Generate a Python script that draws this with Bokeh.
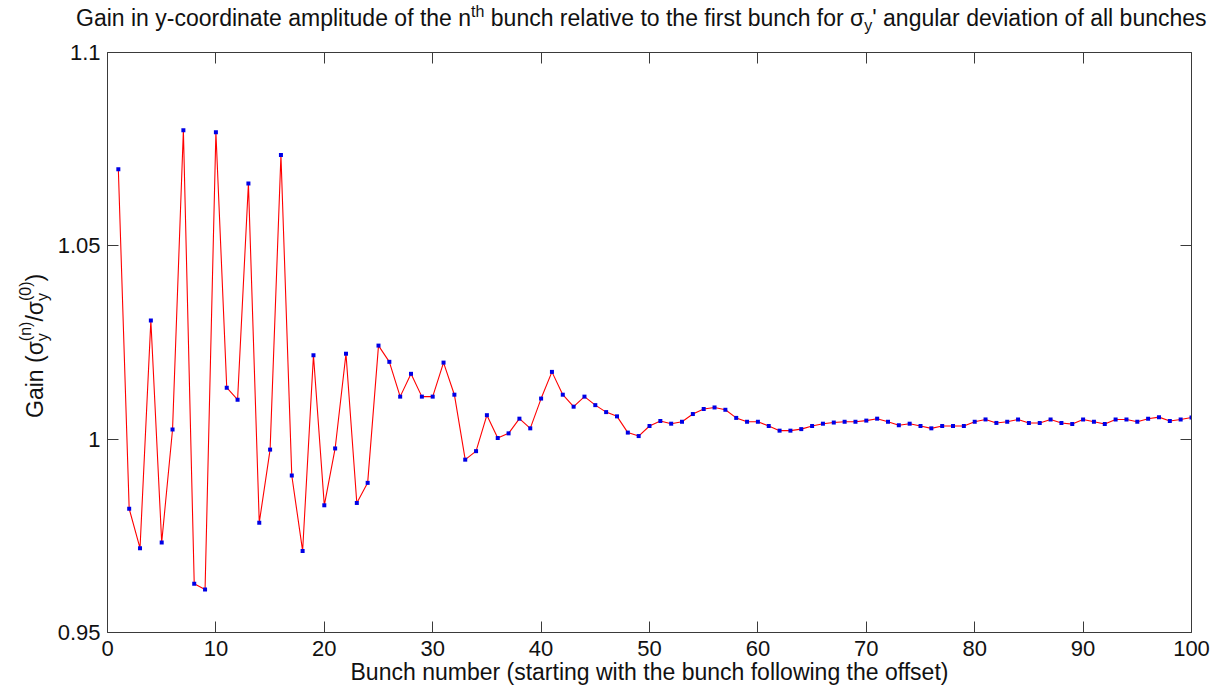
from bokeh.plotting import figure
from bokeh.models import Range1d, LinearAxis, FixedTicker, CustomJSTickFormatter, Div
from bokeh.layouts import column, row
from bokeh.embed import file_html
from bokeh.resources import INLINE

# ---------------- data ----------------
bunch = list(range(1, 101))
gain = [
    1.0698, 0.9820, 0.9718, 1.0307, 0.9733, 1.0025, 1.0799, 0.9626, 0.9611, 1.0794,
    1.0133, 1.0102, 1.0661, 0.9784, 0.9973, 1.0735, 0.9906, 0.9711, 1.0217, 0.9829,
    0.9976, 1.0221, 0.9835, 0.9887, 1.0242, 1.0200, 1.0110, 1.0169, 1.0110, 1.0110,
    1.0198, 1.0115, 0.9947, 0.9969, 1.0062, 1.0003, 1.0015, 1.0053, 1.0028, 1.0105,
    1.0174, 1.0115, 1.0084, 1.0110, 1.0088, 1.0070, 1.0059, 1.0017, 1.0008, 1.0034,
    1.0047, 1.0040, 1.0045, 1.0065, 1.0078, 1.0082, 1.0076, 1.0055, 1.0045, 1.0045,
    1.0034, 1.0022, 1.0022, 1.0026, 1.0034, 1.0040, 1.0043, 1.0045, 1.0045, 1.0048,
    1.0053, 1.0045, 1.0036, 1.0040, 1.0034, 1.0028, 1.0034, 1.0034, 1.0034, 1.0045,
    1.0051, 1.0042, 1.0045, 1.0051, 1.0042, 1.0042, 1.0051, 1.0042, 1.0039, 1.0051,
    1.0045, 1.0039, 1.0051, 1.0051, 1.0045, 1.0053, 1.0057, 1.0047, 1.0051, 1.0056,
]
x_ticks = [0, 10, 20, 30, 40, 50, 60, 70, 80, 90, 100]
y_ticks = [0.95, 1.0, 1.05, 1.1]
y_tick_labels = ["0.95", "1", "1.05", "1.1"]

title_parts = ["Gain in y-coordinate amplitude of the n", "th",
               " bunch relative to the first bunch for \u03c3", "y",
               "' angular deviation of all bunches"]
x_label = "Bunch number (starting with the bunch following the offset)"
y_label_parts = ["Gain (\u03c3", "y", "(n)", "/\u03c3", "y", "(0)", ")"]

# ---------------- layout ----------------
PAGE_W, PAGE_H = 1227, 693
TITLE_H = 30
YLAB_W = 48
FIG_W, FIG_H = PAGE_W - YLAB_W, PAGE_H - TITLE_H
# frame edges in page px
PL, PR, PT, PB = 107, 1191, 52, 632
FONT = "Liberation Sans"
AX_COL = "#3a3a3a"
TXT_COL = "#111111"
FS = 23          # main font size
SS = 16          # script font size

p = figure(width=FIG_W, height=FIG_H, x_range=Range1d(0, 100), y_range=Range1d(0.95, 1.10),
           output_backend="svg", toolbar_location=None,
           min_border_left=PL - YLAB_W, min_border_right=PAGE_W - PR,
           min_border_top=PT - TITLE_H, min_border_bottom=PAGE_H - PB)
p.background_fill_color = "white"
p.border_fill_alpha = 0
p.outline_line_color = None
p.xgrid.visible = False
p.ygrid.visible = False

for ax in (p.xaxis[0], p.yaxis[0]):
    ax.axis_line_color = AX_COL
    ax.major_tick_line_color = AX_COL
    ax.major_tick_in = 11
    ax.major_tick_out = 0
    ax.minor_tick_line_color = None
    ax.major_label_text_font = FONT
    ax.major_label_text_font_size = "22px"
    ax.major_label_text_color = TXT_COL

p.xaxis[0].ticker = FixedTicker(ticks=x_ticks)
p.xaxis[0].major_label_standoff = 8
p.xaxis[0].axis_label = x_label
p.xaxis[0].axis_label_text_font = FONT
p.xaxis[0].axis_label_text_font_size = f"{FS}px"
p.xaxis[0].axis_label_text_font_style = "normal"
p.xaxis[0].axis_label_text_color = TXT_COL
p.xaxis[0].axis_label_standoff = 0
p.yaxis[0].ticker = FixedTicker(ticks=y_ticks)
p.yaxis[0].major_label_overrides = {t: l for t, l in zip(y_ticks, y_tick_labels)}
p.yaxis[0].major_label_standoff = 7

for loc, tk in (("above", x_ticks), ("right", y_ticks)):
    ax = LinearAxis(ticker=FixedTicker(ticks=tk),
                    formatter=CustomJSTickFormatter(code="return ''"))
    ax.axis_line_color = AX_COL
    ax.major_tick_line_color = AX_COL
    ax.major_tick_in = 11
    ax.major_tick_out = 0
    ax.minor_tick_line_color = None
    ax.major_label_standoff = 0
    p.add_layout(ax, loc)

p.line(bunch, gain, line_color="#ff0000", line_width=1.1)
p.scatter(bunch, gain, marker="square", size=4, fill_color="#0000e6", line_color=None)

BASE = (f"font-family:'{FONT}';font-size:{FS}px;line-height:30px;white-space:nowrap;"
        f"color:{TXT_COL};margin:0;padding:0;")


def sup(t, shift, extra=""):
    return (f"<span style=\"font-size:{SS}px;position:relative;top:{shift}px;{extra}\">"
            f"{t}</span>")


title_html = (f"<div style=\"{BASE}padding-left:76px;padding-top:3px;\">"
              f"{title_parts[0]}{sup(title_parts[1], -9)}{title_parts[2]}"
              f"{sup(title_parts[3], 5)}{title_parts[4]}</div>")
title_div = Div(text=title_html, width=PAGE_W, height=TITLE_H,
                styles={"margin": "0", "padding": "0"})

# rotated y label: baseline at page x=43, text starting at page y=418
ylab_html = (f"<div style=\"{BASE}width:max-content;margin-left:20px;margin-top:{418 - TITLE_H}px;"
             f"transform-origin:0 0;transform:rotate(-90deg);\">"
             f"{y_label_parts[0]}{sup(y_label_parts[1], 5)}"
             f"{sup(y_label_parts[2], -12, 'margin-left:-8px;')}"
             f"{y_label_parts[3]}{sup(y_label_parts[4], 5)}"
             f"{sup(y_label_parts[5], -12, 'margin-left:-8px;')}{y_label_parts[6]}</div>")
ylab_div = Div(text=ylab_html, width=YLAB_W, height=FIG_H,
               styles={"margin": "0", "padding": "0"})

layout = column(title_div, row(ylab_div, p, spacing=0), spacing=0)

open("out.html", "w").write(file_html(layout, INLINE))
